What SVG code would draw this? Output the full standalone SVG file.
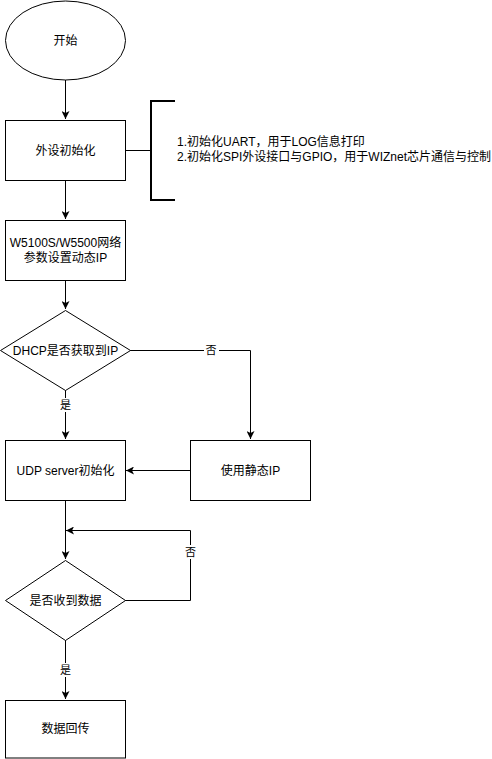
<svg xmlns="http://www.w3.org/2000/svg" width="492" height="759" viewBox="0 0 492 759">
<style>
.n{fill:#fff;stroke:#000;stroke-width:1}
.t{font-family:"Liberation Sans","Noto Sans CJK SC",sans-serif;font-size:12px;fill:#000;text-anchor:middle;dominant-baseline:central}
.tl{font-family:"Liberation Sans","Noto Sans CJK SC",sans-serif;font-size:12px;fill:#000}
.lb{font-family:"Liberation Sans","Noto Sans CJK SC",sans-serif;font-size:11px;fill:#000;text-anchor:middle;dominant-baseline:central}
.c{fill:none;stroke:#000;stroke-width:1}
.lbg{fill:#fff}
</style>
<defs>
<marker id="ar" markerWidth="8" markerHeight="8" viewBox="0 0 8 8" refX="8" refY="4" orient="auto" markerUnits="userSpaceOnUse">
<path d="M0,0 L8,4 L0,8 L2,4 Z" fill="#000"/>
</marker>
</defs>
<rect width="492" height="759" fill="#fff"/>
<g id="connectors">
<path class="c" d="M65.5,80 V119" marker-end="url(#ar)"/>
<path class="c" d="M65.5,180 V219" marker-end="url(#ar)"/>
<path class="c" d="M65.5,280 V309" marker-end="url(#ar)"/>
<path class="c" d="M65.5,390 V439" marker-end="url(#ar)"/>
<path class="c" d="M130,350.5 H250.5 V439" marker-end="url(#ar)"/>
<path class="c" d="M190,470.5 H126" marker-end="url(#ar)"/>
<path class="c" d="M65.5,500 V559" marker-end="url(#ar)"/>
<path class="c" d="M125,600.5 H190.5 V530.5 H66" marker-end="url(#ar)"/>
<path class="c" d="M65.5,640 V699" marker-end="url(#ar)"/>
<path class="c" d="M125,150.5 H150"/>
<rect class="lbg" x="58" y="398" width="15" height="14"/>
<text class="lb" x="65.5" y="405">是</text>
<rect class="lbg" x="204" y="343" width="15" height="14"/>
<text class="lb" x="211" y="350">否</text>
<rect class="lbg" x="183" y="545" width="15" height="14"/>
<text class="lb" x="190.5" y="552">否</text>
<rect class="lbg" x="58" y="663" width="15" height="14"/>
<text class="lb" x="65.5" y="670">是</text>
</g>
<g id="start">
<ellipse class="n" cx="65.5" cy="40.5" rx="60" ry="39.5"/>
<text class="t" x="65.5" y="40.5">开始</text>
</g>
<g id="periph-init">
<rect class="n" x="5.5" y="120.5" width="120" height="60"/>
<text class="t" x="65.5" y="150.5">外设初始化</text>
</g>
<g id="note">
<path d="M175,101 H151 V200 H175" fill="none" stroke="#000" stroke-width="2"/>
<text class="tl" x="177" y="146">1.初始化UART，用于LOG信息打印</text>
<text class="tl" x="177" y="161">2.初始化SPI外设接口与GPIO，用于WIZnet芯片通信与控制</text>
</g>
<g id="net-config">
<rect class="n" x="5.5" y="220.5" width="120" height="60"/>
<text class="t" x="65.5" y="243">W5100S/W5500网络</text>
<text class="t" x="65.5" y="258">参数设置动态IP</text>
</g>
<g id="dhcp">
<path class="n" d="M65.5,310.5 L130.5,350.5 L65.5,390.5 L0.5,350.5 Z"/>
<text class="t" x="65.5" y="350.5">DHCP是否获取到IP</text>
</g>
<g id="static-ip">
<rect class="n" x="190.5" y="440.5" width="120" height="60"/>
<text class="t" x="250.5" y="470.5">使用静态IP</text>
</g>
<g id="udp-init">
<rect class="n" x="5.5" y="440.5" width="120" height="60"/>
<text class="t" x="65.5" y="470.5">UDP server初始化</text>
</g>
<g id="recv">
<path class="n" d="M65.5,560.5 L125.5,600.5 L65.5,640.5 L5.5,600.5 Z"/>
<text class="t" x="65.5" y="600.5">是否收到数据</text>
</g>
<g id="echo">
<rect class="n" x="5.5" y="700.5" width="120" height="57.5"/>
<text class="t" x="65.5" y="729">数据回传</text>
</g>
</svg>
